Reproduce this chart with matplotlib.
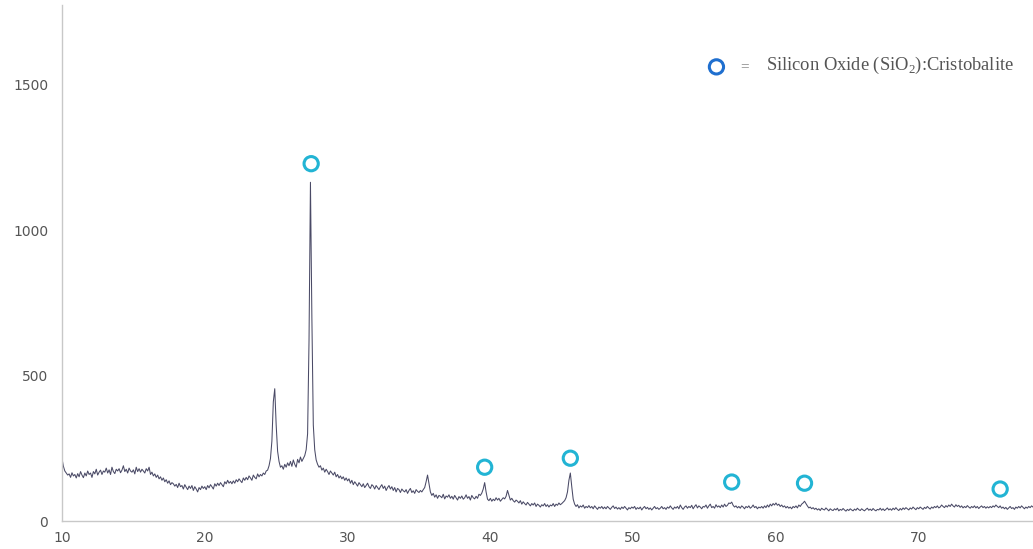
import matplotlib.pyplot as plt
import numpy as np

# XRD scan: 2-theta from 10.0 to 78.0 in steps of 0.1
start_2theta = 10.0
step_2theta = 0.1
intensity = [
    215, 188, 172, 165, 158, 162, 150, 166, 155, 160,   # 10
    148, 163, 152, 170, 158, 149, 165, 155, 172, 160,   # 11
    165, 150, 170, 162, 178, 158, 168, 175, 160, 172,   # 12
    168, 182, 165, 176, 160, 185, 170, 163, 178, 172,   # 13
    180, 166, 175, 190, 170, 178, 165, 182, 172, 168,   # 14
    176, 162, 185, 170, 180, 168, 178, 172, 165, 180,   # 15
    172, 185, 160, 168, 155, 162, 150, 158, 145, 152,   # 16
    140, 148, 135, 142, 130, 138, 125, 132, 128, 120,   # 17
    126, 115, 130, 118, 122, 110, 125, 116, 108, 120,   # 18
    112, 122, 105, 118, 110, 100, 115, 108, 120, 112,   # 19
    118, 108, 122, 114, 125, 118, 110, 128, 120, 130,   # 20
    122, 132, 125, 118, 135, 128, 140, 130, 136, 128,   # 21
    138, 130, 142, 135, 145, 138, 132, 148, 140, 150,   # 22
    142, 155, 148, 140, 158, 150, 145, 162, 152, 160,   # 23
    155, 165, 160, 172, 175, 190, 215, 275, 410, 455,   # 24
    330, 240, 205, 185, 190, 178, 195, 185, 200, 190,   # 25
    205, 188, 210, 195, 185, 212, 200, 220, 205, 215,   # 26
    225, 245, 300, 620, 1165, 700, 330, 245, 210, 195,  # 27
    185, 190, 175, 182, 168, 178, 170, 160, 172, 165,   # 28
    158, 168, 152, 160, 148, 155, 145, 152, 140, 148,   # 29
    138, 145, 130, 140, 125, 135, 128, 120, 132, 125,   # 30
    118, 128, 115, 122, 130, 118, 112, 125, 120, 110,   # 31
    122, 115, 108, 118, 125, 112, 120, 105, 115, 122,   # 32
    110, 118, 105, 115, 100, 112, 108, 98, 110, 104,    # 33
    100, 108, 95, 105, 112, 98, 104, 95, 108, 102,      # 34
    98, 105, 100, 108, 115, 135, 158, 130, 100, 88,     # 35
    95, 82, 90, 78, 88, 85, 80, 92, 76, 86,             # 36
    82, 90, 78, 85, 75, 88, 80, 72, 84, 78,             # 37
    86, 75, 80, 90, 78, 84, 72, 88, 80, 76,             # 38
    85, 78, 92, 88, 96, 110, 132, 100, 75, 70,          # 39
    78, 68, 75, 70, 80, 72, 78, 68, 74, 80,             # 40
    76, 85, 105, 88, 72, 78, 70, 65, 72, 68,            # 41
    62, 70, 58, 66, 60, 55, 64, 58, 52, 60,             # 42
    55, 62, 50, 58, 54, 48, 56, 52, 60, 50,             # 43
    56, 48, 55, 52, 60, 50, 58, 54, 62, 56,             # 44
    60, 65, 70, 80, 100, 140, 165, 118, 75, 58,         # 45
    50, 56, 45, 52, 48, 55, 44, 50, 46, 53,             # 46
    45, 50, 42, 52, 46, 40, 48, 44, 50, 42,             # 47
    48, 42, 50, 45, 40, 47, 52, 43, 48, 41,             # 48
    46, 40, 48, 43, 50, 44, 38, 46, 42, 48,             # 49
    44, 50, 40, 46, 42, 48, 38, 45, 50, 42,             # 50
    47, 40, 45, 38, 44, 50, 42, 46, 40, 44,             # 51
    50, 42, 46, 40, 48, 44, 52, 45, 40, 48,             # 52
    44, 50, 42, 55, 46, 40, 48, 52, 44, 50,             # 53
    46, 54, 42, 50, 56, 45, 52, 48, 42, 50,             # 54
    48, 55, 44, 52, 58, 46, 50, 44, 56, 48,             # 55
    52, 46, 55, 48, 58, 50, 54, 62, 60, 65,             # 56
    54, 48, 52, 45, 50, 44, 52, 48, 42, 50,             # 57
    46, 52, 44, 48, 55, 46, 50, 42, 48, 45,             # 58
    50, 44, 52, 46, 55, 48, 58, 52, 60, 55,             # 59
    62, 54, 58, 50, 55, 48, 52, 45, 50, 44,             # 60
    48, 42, 50, 46, 52, 45, 55, 50, 58, 62,             # 61
    68, 60, 52, 45, 48, 42, 46, 40, 44, 38,             # 62
    42, 36, 44, 40, 38, 45, 40, 35, 42, 38,             # 63
    36, 42, 38, 44, 35, 40, 37, 43, 38, 34,             # 64
    40, 36, 42, 38, 35, 41, 37, 44, 39, 36,             # 65
    42, 38, 35, 40, 44, 37, 41, 36, 43, 38,             # 66
    35, 40, 38, 44, 37, 42, 36, 40, 45, 38,             # 67
    42, 37, 44, 39, 46, 40, 36, 43, 38, 45,             # 68
    40, 46, 42, 38, 45, 41, 48, 43, 39, 46,             # 69
    42, 48, 44, 40, 47, 43, 50, 45, 41, 48,             # 70
    44, 50, 46, 52, 45, 48, 55, 50, 46, 53,             # 71
    48, 55, 50, 58, 52, 48, 56, 50, 54, 47,             # 72
    52, 45, 50, 46, 53, 48, 44, 50, 46, 52,             # 73
    45, 50, 43, 48, 52, 46, 50, 44, 49, 45,             # 74
    50, 46, 52, 48, 55, 50, 46, 52, 44, 48,             # 75
    42, 47, 40, 45, 50, 43, 46, 40, 48, 44,             # 76
    50, 45, 52, 47, 42, 48, 44, 50, 46, 52,             # 77
    48,                                                 # 78
]

# Cristobalite peak markers (2-theta, marker height)
marker_2theta = [27.45, 39.6, 45.6, 56.9, 62.0, 75.7]
marker_height = [1229, 185, 216, 134, 130, 110]

x_ticks = [10, 20, 30, 40, 50, 60, 70]
y_ticks = [0, 500, 1000, 1500]

legend_label = "Silicon Oxide (SiO$_2$):Cristobalite"

two_theta = start_2theta + step_2theta * np.arange(len(intensity))

plt.rcParams['mathtext.fontset'] = 'custom'
plt.rcParams['mathtext.rm'] = 'Liberation Serif'

fig = plt.figure(figsize=(10.33, 5.49), dpi=100)
ax = fig.add_axes([0.060, 0.051, 0.940, 0.940])

ax.plot(two_theta, intensity, color="#4a4a66", linewidth=0.75)
ax.scatter(marker_2theta, marker_height, s=105, facecolors="none",
           edgecolors="#22b4d4", linewidths=2.2, zorder=3)

ax.set_xlim(10, 78)
ax.set_ylim(0, 1775)
ax.set_xticks(x_ticks)
ax.set_yticks(y_ticks)
ax.tick_params(length=0, labelsize=10, labelcolor="#555555")
ax.tick_params(axis='x', pad=7)
ax.tick_params(axis='y', pad=10)

for side in ["top", "right"]:
    ax.spines[side].set_visible(False)
for side in ["left", "bottom"]:
    ax.spines[side].set_color("#c8c8c8")
    ax.spines[side].set_linewidth(1.0)

# legend drawn by hand like in the original figure
ax.scatter([0.674], [0.880], s=105, facecolors="none", edgecolors="#1f6fcf",
           linewidths=2.2, transform=ax.transAxes, clip_on=False, zorder=3)
ax.text(0.703, 0.880, "=", transform=ax.transAxes, ha="center", va="center",
        fontsize=11, color="#888888", family="Liberation Serif")
ax.text(0.725, 0.882, legend_label, transform=ax.transAxes, ha="left",
        va="center", fontsize=13.3, color="#555555", family="Liberation Serif")

fig.savefig("out.png", dpi=100)
